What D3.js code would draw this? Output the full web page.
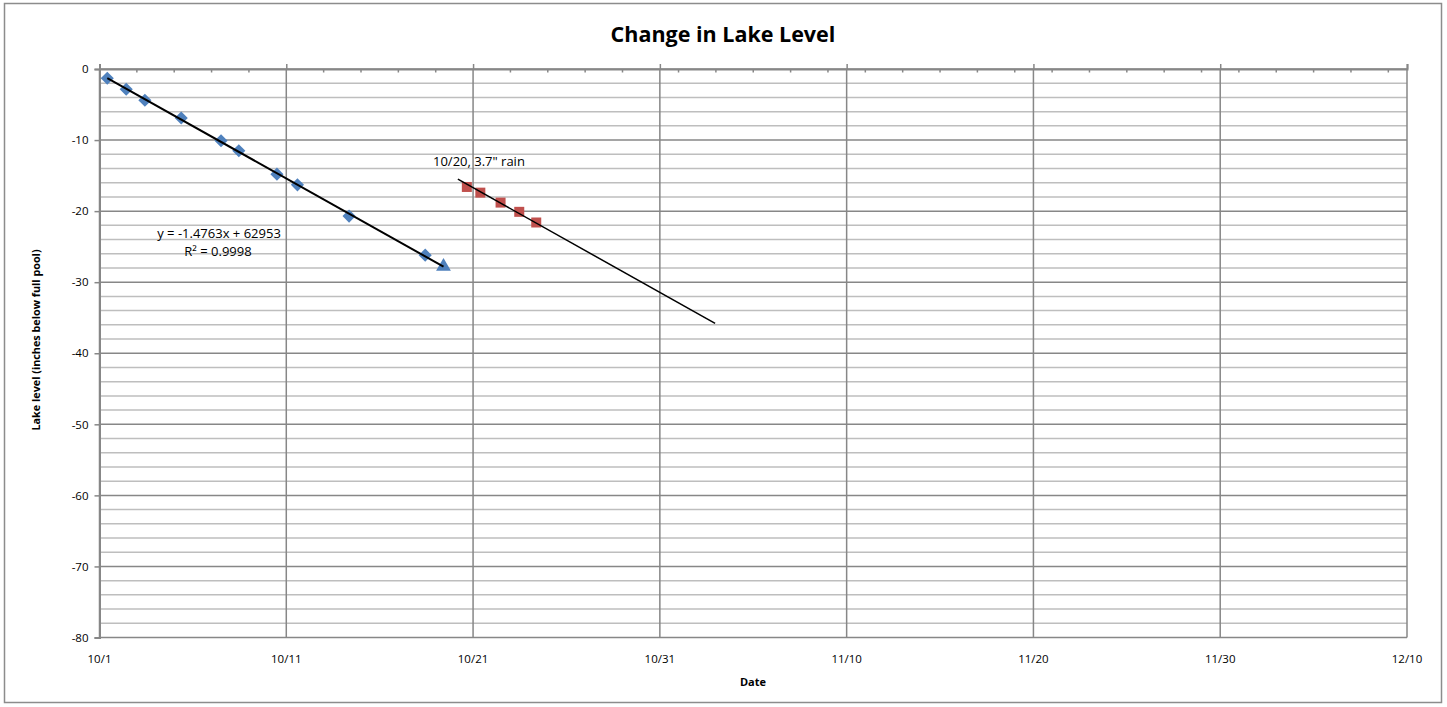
<!DOCTYPE html>
<html>
<head>
<meta charset="utf-8">
<script src="https://cdn.jsdelivr.net/npm/d3@7/dist/d3.min.js"></script>
<style>
  html, body { margin: 0; padding: 0; background: #fff; }
  svg { display: block; font-family: "Open Sans", Lato, sans-serif; }
</style>
</head>
<body>
<svg id="chart" width="1447" height="707"></svg>
<script>
// ---------- data ----------
const title = "Change in Lake Level";
const xTitle = "Date";
const yTitle = "Lake level (inches below full pool)";

// Blue series (before rain), diamonds
const dropDates  = ["2016-10-01T10:00","2016-10-02T10:20","2016-10-03T10:20","2016-10-05T09:00","2016-10-07T12:10",
                    "2016-10-08T11:00","2016-10-10T12:00","2016-10-11T14:20","2016-10-14T08:40","2016-10-18T10:30"];
const dropLevels = [-1.3, -2.85, -4.4, -6.9, -10.1, -11.5, -14.8, -16.3, -20.7, -26.2];
// Last reading before the rain, triangle marker (same series)
const lastDates  = ["2016-10-19T10:00"];
const lastLevels = [-27.8];
// Red series (after rain), squares
const rainDates  = ["2016-10-20T16:00","2016-10-21T09:20","2016-10-22T11:20","2016-10-23T11:20","2016-10-24T09:10"];
const rainLevels = [-16.6, -17.4, -18.8, -20.1, -21.6];
// Projection line after rain
const projDates  = ["2016-10-20T04:30","2016-11-02T23:00"];
const projLevels = [-15.5, -35.8];

const xTickDates = ["2016-10-01","2016-10-11","2016-10-21","2016-10-31","2016-11-10","2016-11-20","2016-11-30","2016-12-10"];
const yTicks = [0, -10, -20, -30, -40, -50, -60, -70, -80];
const yMinor = [-2,-4,-6,-8,-12,-14,-16,-18,-22,-24,-26,-28,-32,-34,-36,-38,-42,-44,-46,-48,
                -52,-54,-56,-58,-62,-64,-66,-68,-72,-74,-76,-78];

const equationText = "y = -1.4763x + 62953";
const r2Text = "R\u00B2 = 0.9998";
const rainNote = "10/20, 3.7\" rain";

// ---------- setup ----------
const parse = s => new Date(s + (s.length === 10 ? "T00:00" : "") + "Z");
const svg = d3.select("#chart");
const plot = { left: 99.5, right: 1407, top: 69, bottom: 637.5 };

const x = d3.scaleUtc()
  .domain([parse("2016-10-01"), parse("2016-12-10")])
  .range([plot.left, plot.right]);
const y = d3.scaleLinear().domain([-80, 0]).range([plot.bottom, plot.top]);

const MAJOR = "#878787", MINOR = "#BEBEBE";
const BLUE = "#4F81BD", RED = "#C0504D";

// chart border
svg.append("rect").attr("x", 4.5).attr("y", 3.5).attr("width", 1437).attr("height", 699)
  .attr("fill", "#fff").attr("stroke", "#8c8c8c").attr("stroke-width", 1.5);

// title
svg.append("text").attr("x", 723).attr("y", 42).attr("text-anchor", "middle")
  .attr("font-size", 21.5).attr("font-weight", "bold").attr("fill", "#000").text(title);

// minor horizontal gridlines
const g = svg.append("g");
g.append("g").selectAll("line").data(yMinor).join("line")
  .attr("x1", plot.left).attr("x2", plot.right)
  .attr("y1", d => y(d)).attr("y2", d => y(d))
  .attr("stroke", MINOR).attr("stroke-width", 1.5);

// major horizontal gridlines
g.append("g").selectAll("line").data(yTicks).join("line")
  .attr("x1", plot.left).attr("x2", plot.right)
  .attr("y1", d => y(d)).attr("y2", d => y(d))
  .attr("stroke", MAJOR).attr("stroke-width", 1.5);

// major vertical gridlines
const xTicks = xTickDates.map(parse);
g.append("g").selectAll("line").data(xTicks).join("line")
  .attr("x1", d => x(d)).attr("x2", d => x(d))
  .attr("y1", plot.top).attr("y2", plot.bottom)
  .attr("stroke", MAJOR).attr("stroke-width", 1.5);

// x axis (crosses at y = 0, labels at bottom)
const xAxisTop = d3.axisTop(x).tickValues(xTicks).tickSize(5).tickFormat("");
svg.append("g").attr("transform", `translate(0,${y(0)})`).call(xAxisTop)
  .call(s => s.select(".domain").attr("stroke", MAJOR).attr("stroke-width", 2))
  .call(s => s.selectAll(".tick line").attr("stroke", MAJOR).attr("stroke-width", 1.5));

// minor ticks every 2 days pointing inward
const minorTicks = d3.utcDay.every(2).range(parse("2016-10-01"), parse("2016-12-10"))
  .filter(d => !xTicks.some(t => +t === +d));
svg.append("g").selectAll("line").data(minorTicks).join("line")
  .attr("x1", d => x(d)).attr("x2", d => x(d))
  .attr("y1", y(0)).attr("y2", y(0) + 3.5)
  .attr("stroke", MAJOR).attr("stroke-width", 1.5);

// x tick labels at bottom
svg.append("g").selectAll("text").data(xTicks).join("text")
  .attr("x", d => x(d)).attr("y", 663).attr("text-anchor", "middle")
  .attr("font-size", 11.5).attr("fill", "#000")
  .text(d => d3.utcFormat("%-m/%-d")(d));

// y axis
const yAxis = d3.axisLeft(y).tickValues(yTicks).tickSize(5).tickPadding(6)
  .tickFormat(d => d === 0 ? "0" : d3.format("d")(d).replace("\u2212", "-"));
svg.append("g").attr("transform", `translate(${plot.left},0)`).call(yAxis)
  .call(s => s.select(".domain").attr("stroke", MAJOR).attr("stroke-width", 2))
  .call(s => s.selectAll(".tick line").attr("stroke", MAJOR).attr("stroke-width", 1.5))
  .call(s => s.selectAll(".tick text").attr("font-size", 11.5).attr("fill", "#000")
    .attr("font-family", "'Open Sans', sans-serif"));

// axis titles
svg.append("text").attr("x", 753).attr("y", 686).attr("text-anchor", "middle")
  .attr("font-size", 11).attr("font-weight", "bold").text(xTitle);
svg.append("text").attr("transform", "translate(40,340) rotate(-90)").attr("text-anchor", "middle")
  .attr("font-size", 10.8).attr("font-weight", "bold").text(yTitle);

// ---------- data marks ----------
const drop = dropDates.map((d, i) => ({ date: parse(d), level: dropLevels[i] }));
const last = lastDates.map((d, i) => ({ date: parse(d), level: lastLevels[i] }));
const rain = rainDates.map((d, i) => ({ date: parse(d), level: rainLevels[i] }));
const proj = projDates.map((d, i) => ({ date: parse(d), level: projLevels[i] }));

// linear trendline (least squares) over the pre-rain series
const fitPts = drop.concat(last);
const xs = fitPts.map(p => +p.date), ys = fitPts.map(p => p.level);
const mx = d3.mean(xs), my = d3.mean(ys);
const slope = d3.sum(xs, (v, i) => (v - mx) * (ys[i] - my)) / d3.sum(xs, v => (v - mx) ** 2);
const icpt = my - slope * mx;
const trend = [d3.min(xs), d3.max(xs)].map(v => ({ date: new Date(v), level: icpt + slope * v }));

const line = d3.line().x(p => x(p.date)).y(p => y(p.level));

// markers
svg.append("g").selectAll("path").data(drop).join("path")
  .attr("transform", p => `translate(${x(p.date)},${y(p.level)})`)
  .attr("d", d3.symbol(d3.symbolDiamond2, 110)())
  .attr("fill", BLUE);
svg.append("g").selectAll("path").data(last).join("path")
  .attr("transform", p => `translate(${x(p.date)},${y(p.level)})`)
  .attr("d", d3.symbol(d3.symbolTriangle, 95)())
  .attr("fill", BLUE);
svg.append("g").selectAll("rect").data(rain).join("rect")
  .attr("x", p => x(p.date) - 5).attr("y", p => y(p.level) - 5)
  .attr("width", 10).attr("height", 10)
  .attr("fill", RED);

// lines on top
svg.append("path").datum(trend).attr("d", line)
  .attr("fill", "none").attr("stroke", "#000").attr("stroke-width", 2);
svg.append("path").datum(proj).attr("d", line)
  .attr("fill", "none").attr("stroke", "#000").attr("stroke-width", 1.5);

// annotations
svg.append("text").attr("x", 219).attr("y", 238).attr("text-anchor", "middle")
  .attr("font-size", 13).text(equationText);
svg.append("text").attr("x", 218).attr("y", 256).attr("text-anchor", "middle")
  .attr("font-size", 13).text(r2Text);
svg.append("text").attr("x", 433).attr("y", 166).attr("text-anchor", "start")
  .attr("font-size", 13).text(rainNote);
</script>
</body>
</html>
